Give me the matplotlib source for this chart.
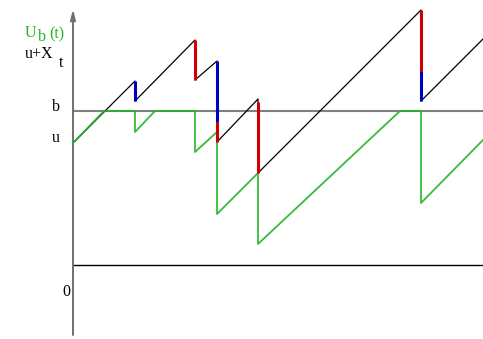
import matplotlib
matplotlib.use("Agg")
import matplotlib.pyplot as plt

# ============================
# Daten (Zeit t, Niveau ueber 0)
# ============================
U0 = 122          # Startkapital u
B_LEVEL = 154     # Schranke b
T_END = 410

# Pfad u + X_t (schwarz)
x_t = [0, 62, 62, 122, 122, 144, 144, 185, 185, 348, 348, 410]
x_lvl = [122, 184, 164, 225, 185, 204, 123, 166, 92, 255, 164, 226]

# Pfad U_b(t) (gruen, an b reflektiert)
ub_t = [0, 31, 62, 62, 82, 122, 122, 144, 144, 185, 185, 327, 348, 348, 410]
ub_lvl = [122, 154, 154, 133, 154, 154, 113, 133, 51, 92, 21, 154, 154, 62, 125]

# farbige Sprungteile: (Zeit, oben, unten, Farbe)
jump_t = [62, 122, 144, 144, 185, 348, 348]
jump_top = [184, 225, 204, 143, 163, 255, 194]
jump_bot = [164, 185, 143, 123, 92, 194, 164]
jump_col = ["blue", "red", "blue", "red", "red", "red", "blue"]

COLORS = {"red": "#d00000", "blue": "#0000c0"}
GREEN = "#22b422"
SERIF = ["Liberation Serif", "DejaVu Serif"]
FS = 11.5

fig = plt.figure(figsize=(4.83, 3.39), dpi=100)
ax = fig.add_axes([0, 0, 1, 1])
ax.set_xlim(-73, 410)
ax.set_ylim(-74, 265)
ax.axis("off")

# Achse und Hilfslinien
ax.annotate("", xy=(0, 256), xytext=(0, -70),
            arrowprops=dict(arrowstyle="-|>,head_length=0.6,head_width=0.15",
                            color="#707070", lw=1.4, shrinkA=0, shrinkB=0))
ax.plot([0, T_END], [B_LEVEL, B_LEVEL], color="#808080", lw=1.5, zorder=1)
ax.plot([0, T_END], [0, 0], color="black", lw=1.0, zorder=1)

# Pfade
ax.plot(x_t, x_lvl, color="black", lw=0.9, zorder=2)
ax.plot(ub_t, ub_lvl, color=GREEN, lw=1.3, alpha=0.9, zorder=3)

for t, top, bot, c in zip(jump_t, jump_top, jump_bot, jump_col):
    ax.plot([t, t], [bot, top], color=COLORS[c], lw=2.2, zorder=4,
            solid_capstyle="butt")

# Beschriftungen
ax.text(-48, 228, "U", color=GREEN, fontsize=FS, family=SERIF)
ax.text(-35, 224, "b", color=GREEN, fontsize=FS, family=SERIF)
ax.text(-24, 227, "(t)", color=GREEN, fontsize=FS, family=SERIF)
ax.text(-48, 207, "u+X", color="black", fontsize=FS, family=SERIF)
ax.text(-14, 198, "t", color="black", fontsize=FS, family=SERIF)
ax.text(-21, 154, "b", color="black", fontsize=FS, family=SERIF)
ax.text(-21, 123, "u", color="black", fontsize=FS, family=SERIF)
ax.text(-11, -31, "0", color="black", fontsize=FS, family=SERIF)

fig.savefig("out.png", dpi=100)
